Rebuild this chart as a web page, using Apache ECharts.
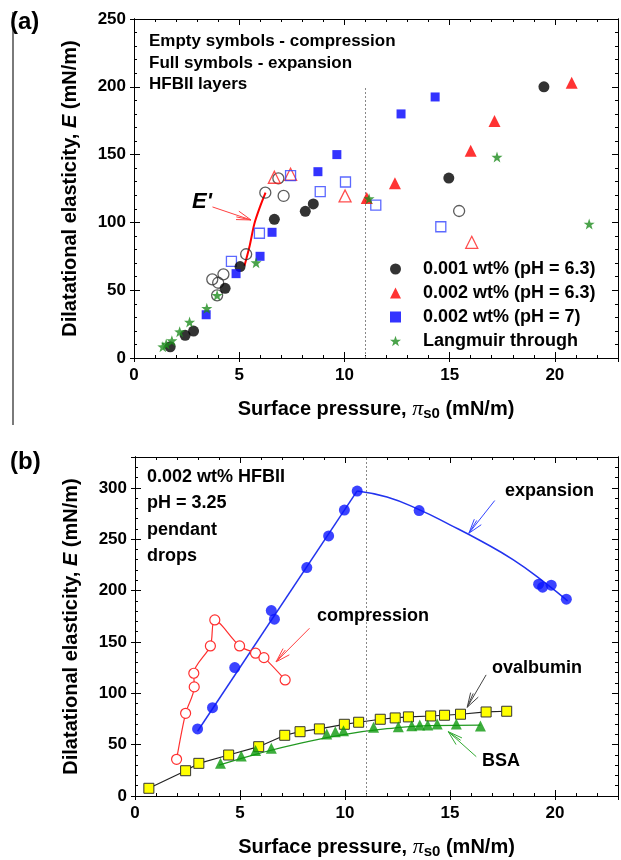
<!DOCTYPE html>
<html><head><meta charset="utf-8">
<script src="https://cdn.jsdelivr.net/npm/echarts@6/dist/echarts.min.js"></script>
<style>html,body{margin:0;padding:0;background:#fff}#c{width:621px;height:860px}</style>
</head><body><div id="c"></div>
<script>
// ---------- Panel (a) data ----------
const aCirclesFull = [[1.72,8.3],[2.43,16.7],[2.83,19.9],[4.33,51.4],[5.04,67.4],[6.67,102.3],[8.14,108.2],[8.52,113.6],[14.96,132.7],[19.48,200]];
const aCirclesOpen = [[3.72,58],[4.0,55.5],[4.25,61.7],[3.95,46.2],[5.33,76.5],[6.24,121.9],[7.11,119.5],[6.86,132.5],[15.45,108.4]];
const aTriFull = [[11.06,118],[12.4,128.8],[16.0,152.9],[17.13,174.8],[20.8,203]];
const aTriOpen = [[6.67,133.3],[7.44,135.5],[10.03,119.5],[16.05,85.3]];
const aSqFull = [[3.43,31.9],[4.85,62.2],[5.99,75],[6.56,92.7],[8.74,137.4],[9.64,150],[12.69,180],[14.31,192.5]];
const aSqOpen = [[4.63,71.3],[5.96,92],[7.44,134.5],[8.85,122.7],[10.05,129.8],[11.49,112.8],[14.58,96.8]];
const aStars = [[1.37,8.3],[1.53,10.3],[1.8,12.8],[2.17,19.4],[2.64,26.5],[3.46,36.6],[3.95,46.2],[5.8,70.3],[11.17,117.5],[17.25,148.2],[21.63,98.8]];
const aEprime = [[5.25,68],[5.5,83],[5.72,99],[6.0,112],[6.25,122]];
const aNames = ['0.001 wt% (pH = 6.3)','0.002 wt% (pH = 6.3)','0.002 wt% (pH = 7)','Langmuir through'];
const aText = ['Empty symbols - compression','Full symbols - expansion','HFBII layers'];
const aDivider = [[11,0],[11,200]];
const aArrowE = [[3.73,111.4],[5.56,101.8]];

// ---------- Panel (b) data ----------
const bExpPoints = [[2.98,65.3],[3.69,86],[4.75,125],[6.49,180.5],[6.64,172.1],[8.18,222.4],[9.22,253.2],[9.97,278.3],[10.58,296.8],[13.53,277.9],[19.22,206.2],[19.41,203.3],[19.82,205.2],[20.54,191.6]];
const bExpRiseLine = [[2.98,63],[10.58,297]];
const bExpFallLine = [[10.58,297],[12,291],[13.5,279],[15,264],[16.5,248],[18,230],[19.5,208],[20.6,190]];
const bComp = [[1.98,35.7],[2.41,80.5],[2.82,106.2],[2.8,119.5],[3.59,146.1],[3.8,171.4],[4.98,146.1],[5.74,139],[6.14,134.7],[7.15,113]];
const bOval = [[0.66,7.5],[2.41,24.6],[3.04,31.8],[4.46,39.9],[5.89,48],[7.13,59.1],[7.86,62.6],[8.78,65.3],[9.97,69.8],[10.65,71.8],[11.68,74.7],[12.39,76],[13.02,77],[14.08,77.9],[14.74,78.6],[15.5,79.6],[16.72,81.8],[17.7,82.5]];
const bBSA = [[4.07,31.8],[5.06,39],[5.74,44.2],[6.49,46.5],[9.13,60.4],[9.54,62.6],[9.93,63.6],[11.36,66.9],[12.54,67.5],[13.18,68.5],[13.56,69.2],[13.94,69.2],[14.39,70.1],[15.3,70.1],[16.45,68.2]];
const bBSAFit = [[4.0,30],[6,42],[8,52],[10,60],[12,65.5],[14,68.5],[16.45,69]];
const bText = ['0.002 wt% HFBII','pH = 3.25','pendant','drops'];
const bArrowComp = [[8.31,163.3],[6.72,130.6]];
const bArrowExp = [[17.13,287.6],[15.9,255.8]];
const bArrowOval = [[16.72,117.9],[15.82,86.4]];
const bArrowBSA = [[16.25,38.3],[14.92,62.6]];

// ---------- Axes ----------
const X_MAX = 23, A_Y_MAX = 250, B_Y_MAX = 330;
const FONT = 'Liberation Sans, Arial, sans-serif';
const STAR = 'path://M0,-10 L2.35,-3.24 L9.51,-3.09 L3.8,1.24 L5.88,8.09 L0,4 L-5.88,8.09 L-3.8,1.24 L-9.51,-3.09 L-2.35,-3.24 Z';

const xTitle = '{b|Surface pressure, }{p|π}{s|s0}{b| (mN/m)}';
const yTitle = '{b|Dilatational elasticity, }{i|E}{b| (mN/m)}';
const titleRich = {
  b:{fontSize:20,fontWeight:'bold',fontFamily:FONT,color:'#000'},
  i:{fontSize:20,fontWeight:'bold',fontStyle:'italic',fontFamily:FONT,color:'#000'},
  p:{fontSize:22,fontStyle:'italic',fontFamily:'Liberation Serif, serif',color:'#000'},
  s:{fontSize:15,fontWeight:'bold',fontFamily:FONT,color:'#000',padding:[8,0,0,0]}
};
const tickLabel = {fontSize:17,fontWeight:'bold',color:'#000',fontFamily:FONT};
const line = {lineStyle:{color:'#000',width:1}};

function xAxes(gi){
  const base = {gridIndex:gi,type:'value',min:0,max:X_MAX,splitLine:{show:false},axisLine:{onZero:false,...line}};
  return [
    {...base,position:'bottom',interval:5,axisTick:{inside:true,length:6,...line},
     axisLabel:{...tickLabel,margin:9,formatter:v=>v%5===0?String(v):''},
     name:xTitle,nameLocation:'middle',nameGap:40,nameTextStyle:{rich:titleRich}},
    {...base,position:'bottom',interval:5,axisTick:{inside:false,length:4,...line},axisLabel:{show:false}},
    {...base,position:'bottom',interval:1,axisTick:{inside:true,length:3,...line},axisLabel:{show:false}},
    {...base,position:'top',interval:5,axisTick:{inside:true,length:6,...line},axisLabel:{show:false}},
    {...base,position:'top',interval:1,axisTick:{inside:true,length:3,...line},axisLabel:{show:false}}
  ];
}
function yAxes(gi,ymax){
  const base = {gridIndex:gi,type:'value',min:0,max:ymax,splitLine:{show:false},axisLine:{onZero:false,...line}};
  return [
    {...base,position:'left',interval:50,axisTick:{inside:true,length:6,...line},
     axisLabel:{...tickLabel,margin:8,formatter:v=>v%50===0?String(v):''},
     name:yTitle,nameLocation:'middle',nameGap:54,nameRotate:90,nameTextStyle:{rich:titleRich}},
    {...base,position:'left',interval:50,axisTick:{inside:false,length:4,...line},axisLabel:{show:false}},
    {...base,position:'left',interval:10,axisTick:{inside:true,length:3,...line},axisLabel:{show:false}},
    {...base,position:'right',interval:50,axisTick:{inside:true,length:6,...line},axisLabel:{show:false}},
    {...base,position:'right',interval:10,axisTick:{inside:true,length:3,...line},axisLabel:{show:false}}
  ];
}

const dotted = {color:'#888',width:1,type:[2,2]};
const OPEN = 'rgba(255,255,255,0)';

const series = [
  // panel a (axes 0)
  {type:'scatter',name:aNames[0],xAxisIndex:0,yAxisIndex:0,data:aCirclesFull,symbol:'circle',symbolSize:11,itemStyle:{color:'#000'},z:5},
  {type:'scatter',name:'a-open-circle',xAxisIndex:0,yAxisIndex:0,data:aCirclesOpen,symbol:'circle',symbolSize:11,itemStyle:{color:OPEN,borderColor:'#333',borderWidth:1.3},z:4},
  {type:'scatter',name:aNames[1],xAxisIndex:0,yAxisIndex:0,data:aTriFull,symbol:'triangle',symbolSize:12,itemStyle:{color:'#ff0000'},z:5},
  {type:'scatter',name:'a-open-tri',xAxisIndex:0,yAxisIndex:0,data:aTriOpen,symbol:'triangle',symbolSize:12,itemStyle:{color:OPEN,borderColor:'#ff2020',borderWidth:1.3},z:4},
  {type:'scatter',name:aNames[2],xAxisIndex:0,yAxisIndex:0,data:aSqFull,symbol:'rect',symbolSize:9,itemStyle:{color:'#0000ff'},z:5},
  {type:'scatter',name:'a-open-sq',xAxisIndex:0,yAxisIndex:0,data:aSqOpen,symbol:'rect',symbolSize:10,itemStyle:{color:OPEN,borderColor:'#3344ff',borderWidth:1.3},z:4},
  {type:'scatter',name:aNames[3],xAxisIndex:0,yAxisIndex:0,data:aStars,symbol:STAR,symbolSize:11,itemStyle:{color:'#1e8c1e'},z:6},
  {type:'line',name:'a-Eprime',xAxisIndex:0,yAxisIndex:0,data:aEprime,smooth:0.3,showSymbol:false,lineStyle:{color:'#ff0000',width:2},z:3,
   markLine:{silent:true,symbol:'none',label:{show:false},lineStyle:dotted,data:[[{coord:aDivider[0]},{coord:aDivider[1]}]]}},
  // panel b (axes 5)
  {type:'line',name:'b-exp-rise',xAxisIndex:5,yAxisIndex:5,data:bExpRiseLine,showSymbol:false,lineStyle:{color:'#2233ee',width:1.5},z:2,
   markLine:{silent:true,symbol:'none',label:{show:false},lineStyle:dotted,data:[{xAxis:11}]}},
  {type:'line',name:'b-exp-fall',xAxisIndex:5,yAxisIndex:5,data:bExpFallLine,smooth:true,showSymbol:false,lineStyle:{color:'#2233ee',width:1.5},z:2},
  {type:'scatter',name:'b-exp',xAxisIndex:5,yAxisIndex:5,data:bExpPoints,symbol:'circle',symbolSize:11,itemStyle:{color:'#0a14ff'},z:5},
  {type:'line',name:'b-comp',xAxisIndex:5,yAxisIndex:5,data:bComp,smooth:0.3,symbol:'circle',symbolSize:10,showSymbol:true,
   lineStyle:{color:'#ff3030',width:1.2},itemStyle:{color:'#fff',borderColor:'#ff3030',borderWidth:1.2},z:4},
  {type:'line',name:'b-oval',xAxisIndex:5,yAxisIndex:5,data:bOval,symbol:'rect',symbolSize:10,showSymbol:true,
   lineStyle:{color:'#222',width:1.2},itemStyle:{color:'#ffff00',borderColor:'#333',borderWidth:1},z:4},
  {type:'line',name:'b-bsa-fit',xAxisIndex:5,yAxisIndex:5,data:bBSAFit,smooth:true,showSymbol:false,lineStyle:{color:'#229922',width:1.2},z:3},
  {type:'scatter',name:'b-bsa',xAxisIndex:5,yAxisIndex:5,data:bBSA,symbol:'triangle',symbolSize:11,itemStyle:{color:'#0d990d'},z:5}
];

const chart = echarts.init(document.getElementById('c'),null,{renderer:'canvas'});
const textStyleBold = (size)=>({fontSize:size,fontWeight:'bold',fontFamily:FONT,fill:'#000'});

const staticGraphics = [
  {type:'line',shape:{x1:13,y1:12,x2:13,y2:425},style:{stroke:'#7a7a7a',lineWidth:2}},
  {type:'text',left:10,top:10,style:{text:'(a)',...textStyleBold(24)}},
  {type:'text',left:10,top:450,style:{text:'(b)',...textStyleBold(24)}},
  ...aText.map((t,i)=>({type:'text',left:149,top:33+i*21.5,style:{text:t,...textStyleBold(17)}})),
  ...bText.map((t,i)=>({type:'text',left:147,top:468+i*26.5,style:{text:t,...textStyleBold(18)}})),
  {type:'text',left:192,top:191,style:{text:"E'",fontSize:22,fontWeight:'bold',fontStyle:'italic',fontFamily:FONT,fill:'#000'}},
  {type:'text',left:317,top:607,style:{text:'compression',...textStyleBold(18)}},
  {type:'text',left:505,top:482,style:{text:'expansion',...textStyleBold(18)}},
  {type:'text',left:492,top:659,style:{text:'ovalbumin',...textStyleBold(18)}},
  {type:'text',left:482,top:752,style:{text:'BSA',...textStyleBold(18)}}
];

chart.setOption({
  animation:false,
  backgroundColor:'#fff',
  grid:[{left:134,top:19,width:485,height:339},{left:135,top:457,width:484,height:339}],
  xAxis:[...xAxes(0),...xAxes(1)],
  yAxis:[...yAxes(0,A_Y_MAX),...yAxes(1,B_Y_MAX)],
  legend:{show:true,orient:'vertical',left:385,top:255,itemWidth:11,itemHeight:11,itemGap:6,selectedMode:false,
    textStyle:{fontSize:18,fontWeight:'bold',fontFamily:FONT,color:'#000',lineHeight:18,padding:[0,0,0,17]},
    data:[{name:aNames[0],icon:'circle'},{name:aNames[1],icon:'triangle'},{name:aNames[2],icon:'rect'},{name:aNames[3],icon:STAR}]},
  series:series,
  graphic:staticGraphics
});

function arrowEls(si, seg, color){
  const p0 = chart.convertToPixel({seriesIndex:si}, seg[0]);
  const p1 = chart.convertToPixel({seriesIndex:si}, seg[1]);
  const ang = Math.atan2(p1[1]-p0[1], p1[0]-p0[0]);
  const L = 15, a = 0.3;
  const b1 = [p1[0]-L*Math.cos(ang-a), p1[1]-L*Math.sin(ang-a)];
  const b2 = [p1[0]-L*Math.cos(ang+a), p1[1]-L*Math.sin(ang+a)];
  const c1 = [p1[0]-L*Math.cos(ang-0.12), p1[1]-L*Math.sin(ang-0.12)];
  return [
    {type:'polyline',shape:{points:[p0,p1]},style:{stroke:color,lineWidth:1,fill:null}},
    {type:'polyline',shape:{points:[b1,p1,b2]},style:{stroke:color,lineWidth:1,fill:null}},
    {type:'polyline',shape:{points:[c1,p1]},style:{stroke:color,lineWidth:1,fill:null}}
  ];
}
const arrows = [
  ...arrowEls(0, aArrowE, '#ff4040'),
  ...arrowEls(8, bArrowComp, '#ff4040'),
  ...arrowEls(8, bArrowExp, '#3344ff'),
  ...arrowEls(8, bArrowOval, '#444'),
  ...arrowEls(8, bArrowBSA, '#33aa33')
];
chart.setOption({graphic:[...staticGraphics, ...arrows]});
</script>
</body></html>
